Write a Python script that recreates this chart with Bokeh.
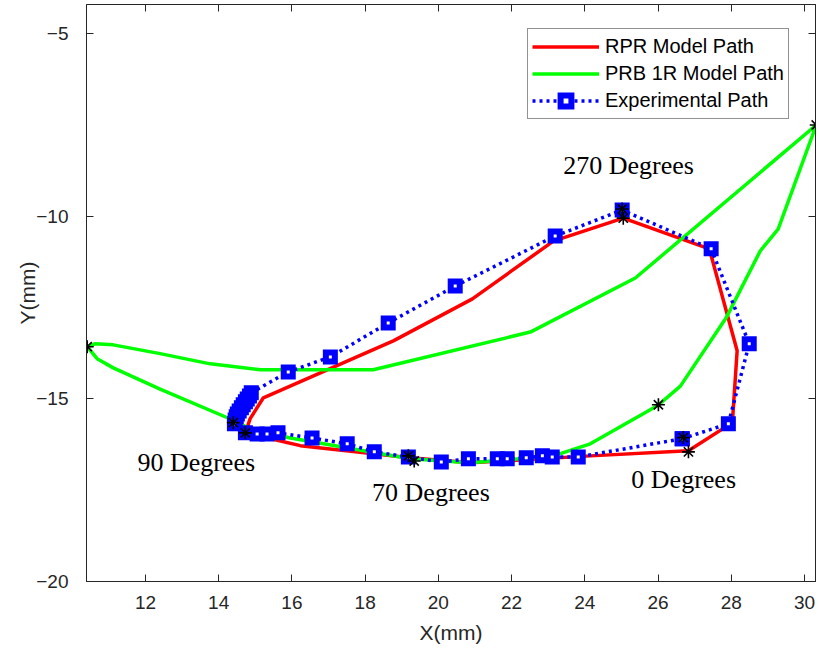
from bokeh.plotting import figure
from bokeh.models import Range1d, LinearAxis, Legend, LegendItem, FixedTicker
from bokeh.core.properties import value
from bokeh.embed import file_html
from bokeh.resources import INLINE

# RPR model path (closed loop)
rpr_x = [26.83, 28.03, 28.16, 27.40, 25.05, 23.14, 20.93, 18.77, 15.22, 14.86, 14.73,
         16.23, 19.23, 20.87, 24.15, 26.83]
rpr_y = [-16.42, -15.65, -13.68, -10.89, -10.05, -10.68, -12.26, -13.41, -14.97, -15.54, -15.93,
         -16.28, -16.61, -16.75, -16.56, -16.42]

# PRB 1R model path
prb_x = [10.41, 10.68, 11.12, 12.40, 14.32, 14.86, 15.96, 19.23, 20.87, 23.14, 24.15, 25.98,
         26.61, 27.86, 28.79, 29.28, 30.32,
         25.38, 22.51, 18.22, 15.14, 13.77, 12.40, 11.12, 10.63, 10.41]
prb_y = [-13.57, -13.90, -14.15, -14.73, -15.55, -15.82, -16.07, -16.64, -16.75, -16.56, -16.23, -15.19,
         -14.65, -12.78, -10.95, -10.35, -7.50,
         -11.69, -13.17, -14.20, -14.20, -14.04, -13.76, -13.52, -13.49, -13.57]

# Experimental path
exp_x = [26.66, 27.92, 28.49, 27.45, 25.02, 23.19, 20.46, 18.63, 17.05, 15.90,
         14.89, 14.84, 14.78, 14.73, 14.67, 14.62, 14.56, 14.51, 14.48, 14.45, 14.43,
         14.73, 15.05, 15.32, 15.62, 16.55, 17.51, 18.25, 19.18, 20.08, 20.82, 21.61,
         21.88, 22.40, 22.84, 23.11, 23.82, 26.66]
exp_y = [-16.09, -15.68, -13.49, -10.89, -9.83, -10.54, -11.91, -12.92, -13.85, -14.26,
         -14.83, -14.92, -15.00, -15.08, -15.16, -15.24, -15.33, -15.41, -15.49, -15.58, -15.68,
         -15.93, -15.96, -15.96, -15.93, -16.07, -16.23, -16.45, -16.59, -16.73, -16.64, -16.64,
         -16.64, -16.61, -16.56, -16.59, -16.59, -16.09]

# Marked angle positions (asterisks)
star_x = [10.41, 30.32, 14.40, 14.73, 19.18, 19.34, 25.02, 25.05, 26.01, 26.69, 26.83]
star_y = [-13.57, -7.50, -15.65, -15.93, -16.56, -16.70, -9.80, -10.05, -15.16, -16.06, -16.45]

# Annotations
ann_text = ["270 Degrees", "90 Degrees", "70 Degrees", "0 Degrees"]
ann_x = [23.41, 11.78, 18.19, 25.27]
ann_y = [-8.61, -16.74, -17.56, -17.22]

x_ticks = [12, 14, 16, 18, 20, 22, 24, 26, 28, 30]
y_ticks = [-20, -15, -10, -5]

AX = "#262626"
SANS = "'Liberation Sans', Arial, Helvetica, sans-serif"

p = figure(width=819, height=655, output_backend="svg", toolbar_location=None,
           x_range=Range1d(10.39, 30.30), y_range=Range1d(-20, -4.2),
           min_border_left=86, min_border_right=4, min_border_top=4, min_border_bottom=74)
p.background_fill_color = "white"
p.border_fill_color = "white"
p.grid.visible = False
p.outline_line_color = AX
p.outline_line_width = 1

for ax in (p.xaxis[0], p.yaxis[0]):
    ax.major_tick_in = 7
    ax.major_tick_out = 0
    ax.minor_tick_in = 0
    ax.minor_tick_out = 0
    ax.axis_line_color = AX
    ax.major_tick_line_color = AX
    ax.major_label_text_color = AX
    ax.major_label_text_font = SANS
    ax.major_label_text_font_size = "19px"
    ax.axis_label_text_font = SANS
    ax.axis_label_text_font_size = "21px"
    ax.axis_label_text_font_style = "normal"
    ax.axis_label_text_color = AX

p.xaxis[0].ticker = FixedTicker(ticks=x_ticks)
p.yaxis[0].ticker = FixedTicker(ticks=y_ticks)
p.xaxis[0].axis_label = "X(mm)"
p.yaxis[0].axis_label = "Y(mm)"
p.xaxis[0].major_label_standoff = 14
p.yaxis[0].major_label_standoff = 18
p.xaxis[0].axis_label_standoff = 9
p.yaxis[0].axis_label_standoff = -6

for loc, ticks in (("above", x_ticks), ("right", y_ticks)):
    a = LinearAxis(ticker=FixedTicker(ticks=ticks))
    a.major_tick_in = 7
    a.major_tick_out = 0
    a.minor_tick_in = 0
    a.minor_tick_out = 0
    a.major_label_text_font_size = "1px"
    a.major_label_text_color = None
    a.major_label_standoff = 0
    a.axis_line_color = AX
    a.major_tick_line_color = AX
    p.add_layout(a, loc)

r_rpr = p.line(rpr_x, rpr_y, line_color="#FF0000", line_width=3.5)
r_prb = p.line(prb_x, prb_y, line_color="#00FF00", line_width=3.5)
r_exp = p.line(exp_x, exp_y, line_color="#0000FF", line_width=3.5, line_dash="3 4")
r_exm = p.scatter(exp_x, exp_y, marker="square", size=9, fill_color="white",
                  line_color="#0000FF", line_width=6, line_join="miter")
p.scatter(star_x, star_y, marker="asterisk", size=13, line_color="black", line_width=1.6)

p.text(ann_x, ann_y, text=ann_text, text_font=value("Liberation Serif"),
       text_font_size="26px", text_color="black", text_baseline="alphabetic", text_align="left")

legend = Legend(items=[
    LegendItem(label="RPR Model Path", renderers=[r_rpr]),
    LegendItem(label="PRB 1R Model Path", renderers=[r_prb]),
    LegendItem(label="Experimental Path", renderers=[r_exp, r_exm]),
], location=(441, 462))
legend.label_text_font = SANS
legend.label_text_font_size = "20px"
legend.label_text_color = "black"
legend.glyph_width = 67
legend.glyph_height = 27
legend.label_height = 27
legend.spacing = 0
legend.padding = 4
legend.margin = 0
legend.label_standoff = 6
legend.border_line_color = AX
legend.border_line_width = 1
legend.background_fill_color = "white"
legend.background_fill_alpha = 1
p.add_layout(legend, "center")

open("out.html", "w").write(file_html(p, INLINE))
